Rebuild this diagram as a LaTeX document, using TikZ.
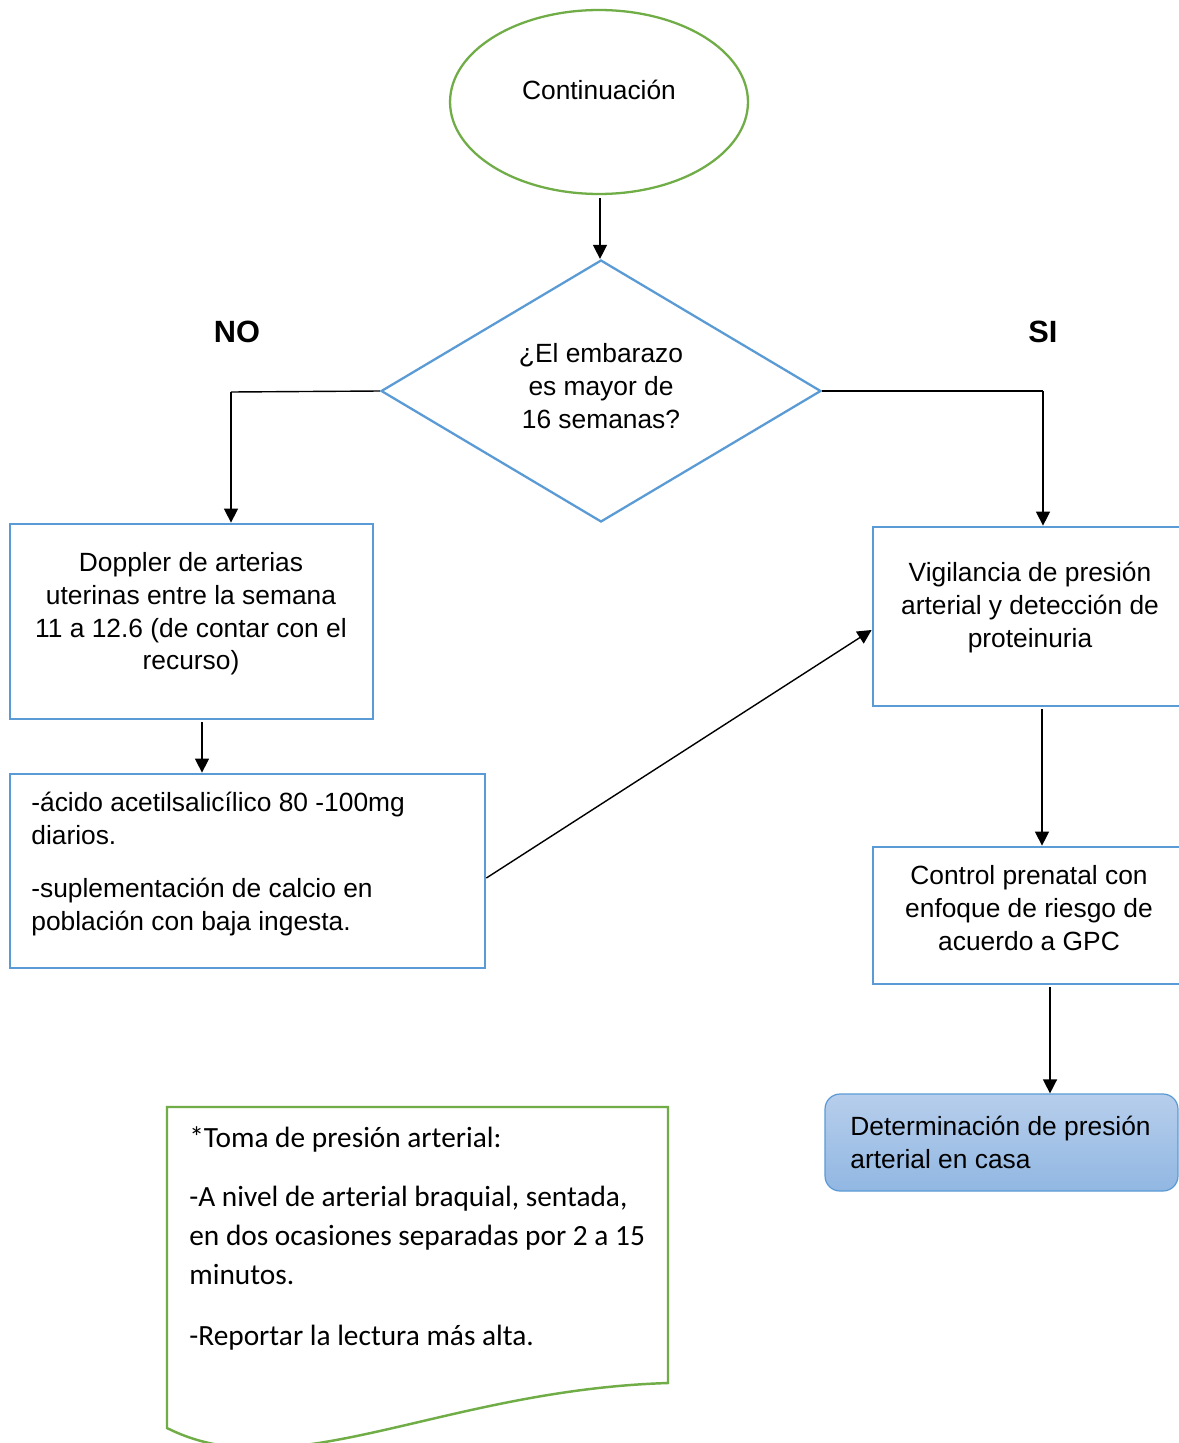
\documentclass[tikz,border=0pt]{standalone}
\usepackage{fontspec}
\setmainfont{Liberation Sans}
\newfontfamily\calibfont{Carlito}
\usetikzlibrary{shapes.geometric,arrows.meta}
\definecolor{oblue}{RGB}{91,155,213}
\definecolor{ogreen}{RGB}{112,173,71}
\definecolor{gtop}{RGB}{183,206,236}
\definecolor{gbot}{RGB}{145,183,226}
\tikzset{
  arr/.style={draw=black, line width=0.8pt, -{Triangle[length=8pt,width=8pt]}},
  plain/.style={draw=black, line width=0.8pt},
  bluebox/.style={draw=oblue, line width=1.6pt, rectangle, inner sep=0pt},
  txt/.style={font=\fontsize{15}{18.7}\selectfont, inner sep=0pt},
  ntxt/.style={font=\calibfont\fontsize{16.7}{22.1}\selectfont, inner sep=0pt, align=left, anchor=north west}
}
\begin{document}
\begin{tikzpicture}[x=0.02cm, y=-0.02cm]
\useasboundingbox (0,0) rectangle (1179,1443);
\clip (0,0) rectangle (1179,1443);
\fill[white] (0,0) rectangle (1179,1443);

% start ellipse
\node[ellipse, draw=ogreen, line width=1.3pt, minimum width=5.96cm, minimum height=3.68cm, inner sep=0pt] (E) at (599,102) {};
\node[txt, anchor=base] (tE) at (599,100) {Continuación};

% decision diamond
\node[diamond, draw=oblue, line width=1.3pt, minimum width=8.8cm, minimum height=5.24cm, inner sep=0pt] (D) at (601,391) {};
\node[txt, align=center, anchor=north] (tD) at (601,339) {\strut ¿El embarazo\\es mayor de\\16 semanas?};

% branch labels
\node[txt, anchor=base, font=\fontsize{17.5}{18.7}\selectfont\bfseries] (no) at (237,342) {NO};
\node[txt, anchor=base, font=\fontsize{17.5}{18.7}\selectfont\bfseries] (si) at (1043,342) {SI};

% left column
\node[bluebox, minimum width=7.26cm, minimum height=3.9cm] (B1) at (191.5,621.5) {};
\node[txt, align=center, anchor=north] (tB1) at (191,548) {\strut Doppler de arterias\\uterinas entre la semana\\11 a 12.6 (de contar con el\\recurso)};

\node[bluebox, minimum width=9.5cm, minimum height=3.88cm] (B2) at (247.5,871) {};
\node[txt, align=left, anchor=north west] (tB2) at (31,788) {\strut -ácido acetilsalicílico 80 -100mg\\diarios.\\[11.9pt]-suplementación de calcio en\\población con baja ingesta.};

% right column
\node[bluebox, minimum width=6.34cm, minimum height=3.58cm] (B3) at (1031.5,616.5) {};
\node[txt, align=center, anchor=north] (tB3) at (1030,558) {\strut Vigilancia de presión\\arterial y detección de\\proteinuria};

\node[bluebox, minimum width=6.34cm, minimum height=2.74cm] (B4) at (1031.5,915.5) {};
\node[txt, align=center, anchor=north] (tB4) at (1029,861) {\strut Control prenatal con\\enfoque de riesgo de\\acuerdo a GPC};

\node[rectangle, rounded corners=0.3cm, draw=oblue, line width=0.7pt, top color=gtop, bottom color=gbot, minimum width=7.06cm, minimum height=1.94cm, inner sep=0pt] (B5) at (1001.5,1142.5) {};
\node[txt, align=left, anchor=north west] (tB5) at (850,1112) {\strut Determinación de presión\\arterial en casa};

% note (document shape)
\draw[draw=ogreen, line width=1.4pt] (167,1107) -- (668,1107) -- (668,1383)
  .. controls (440,1390) and (290,1490) .. (167,1428) -- cycle;
\node[ntxt] (note) at (189,1120) {\strut *Toma de presión arterial:\\[11.5pt]-A nivel de arterial braquial, sentada,\\en dos ocasiones separadas por 2 a 15\\minutos.\\[12.5pt]-Reportar la lectura más alta.};

% connectors
\coordinate (nol) at (231,392);
\coordinate (sir) at (1043,394);
\coordinate (c0) at (600,0);
\coordinate (c1) at (202,0);
\coordinate (c3) at (1042,0);
\coordinate (c4) at (1050,0);

\draw[arr] ([yshift=-0.06cm]E.south -| c0) -- (D.north -| c0);
\draw[plain] (D.west) -- (nol);
\draw[arr] (nol) -- (nol |- B1.north);
\draw[plain] (D.east) -- (D.east -| sir);
\draw[arr] (D.east -| sir) -- (sir |- B3.north);
\draw[arr] ([yshift=-0.04cm]B1.south -| c1) -- (B2.north -| c1);
\draw[arr] ([yshift=-0.14cm]B2.east) -- ([yshift=-0.27cm]B3.west);
\draw[arr] ([yshift=-0.04cm]B3.south -| c3) -- (B4.north -| c3);
\draw[arr] ([yshift=-0.04cm]B4.south -| c4) -- (B5.north -| c4);
\end{tikzpicture}
\end{document}
